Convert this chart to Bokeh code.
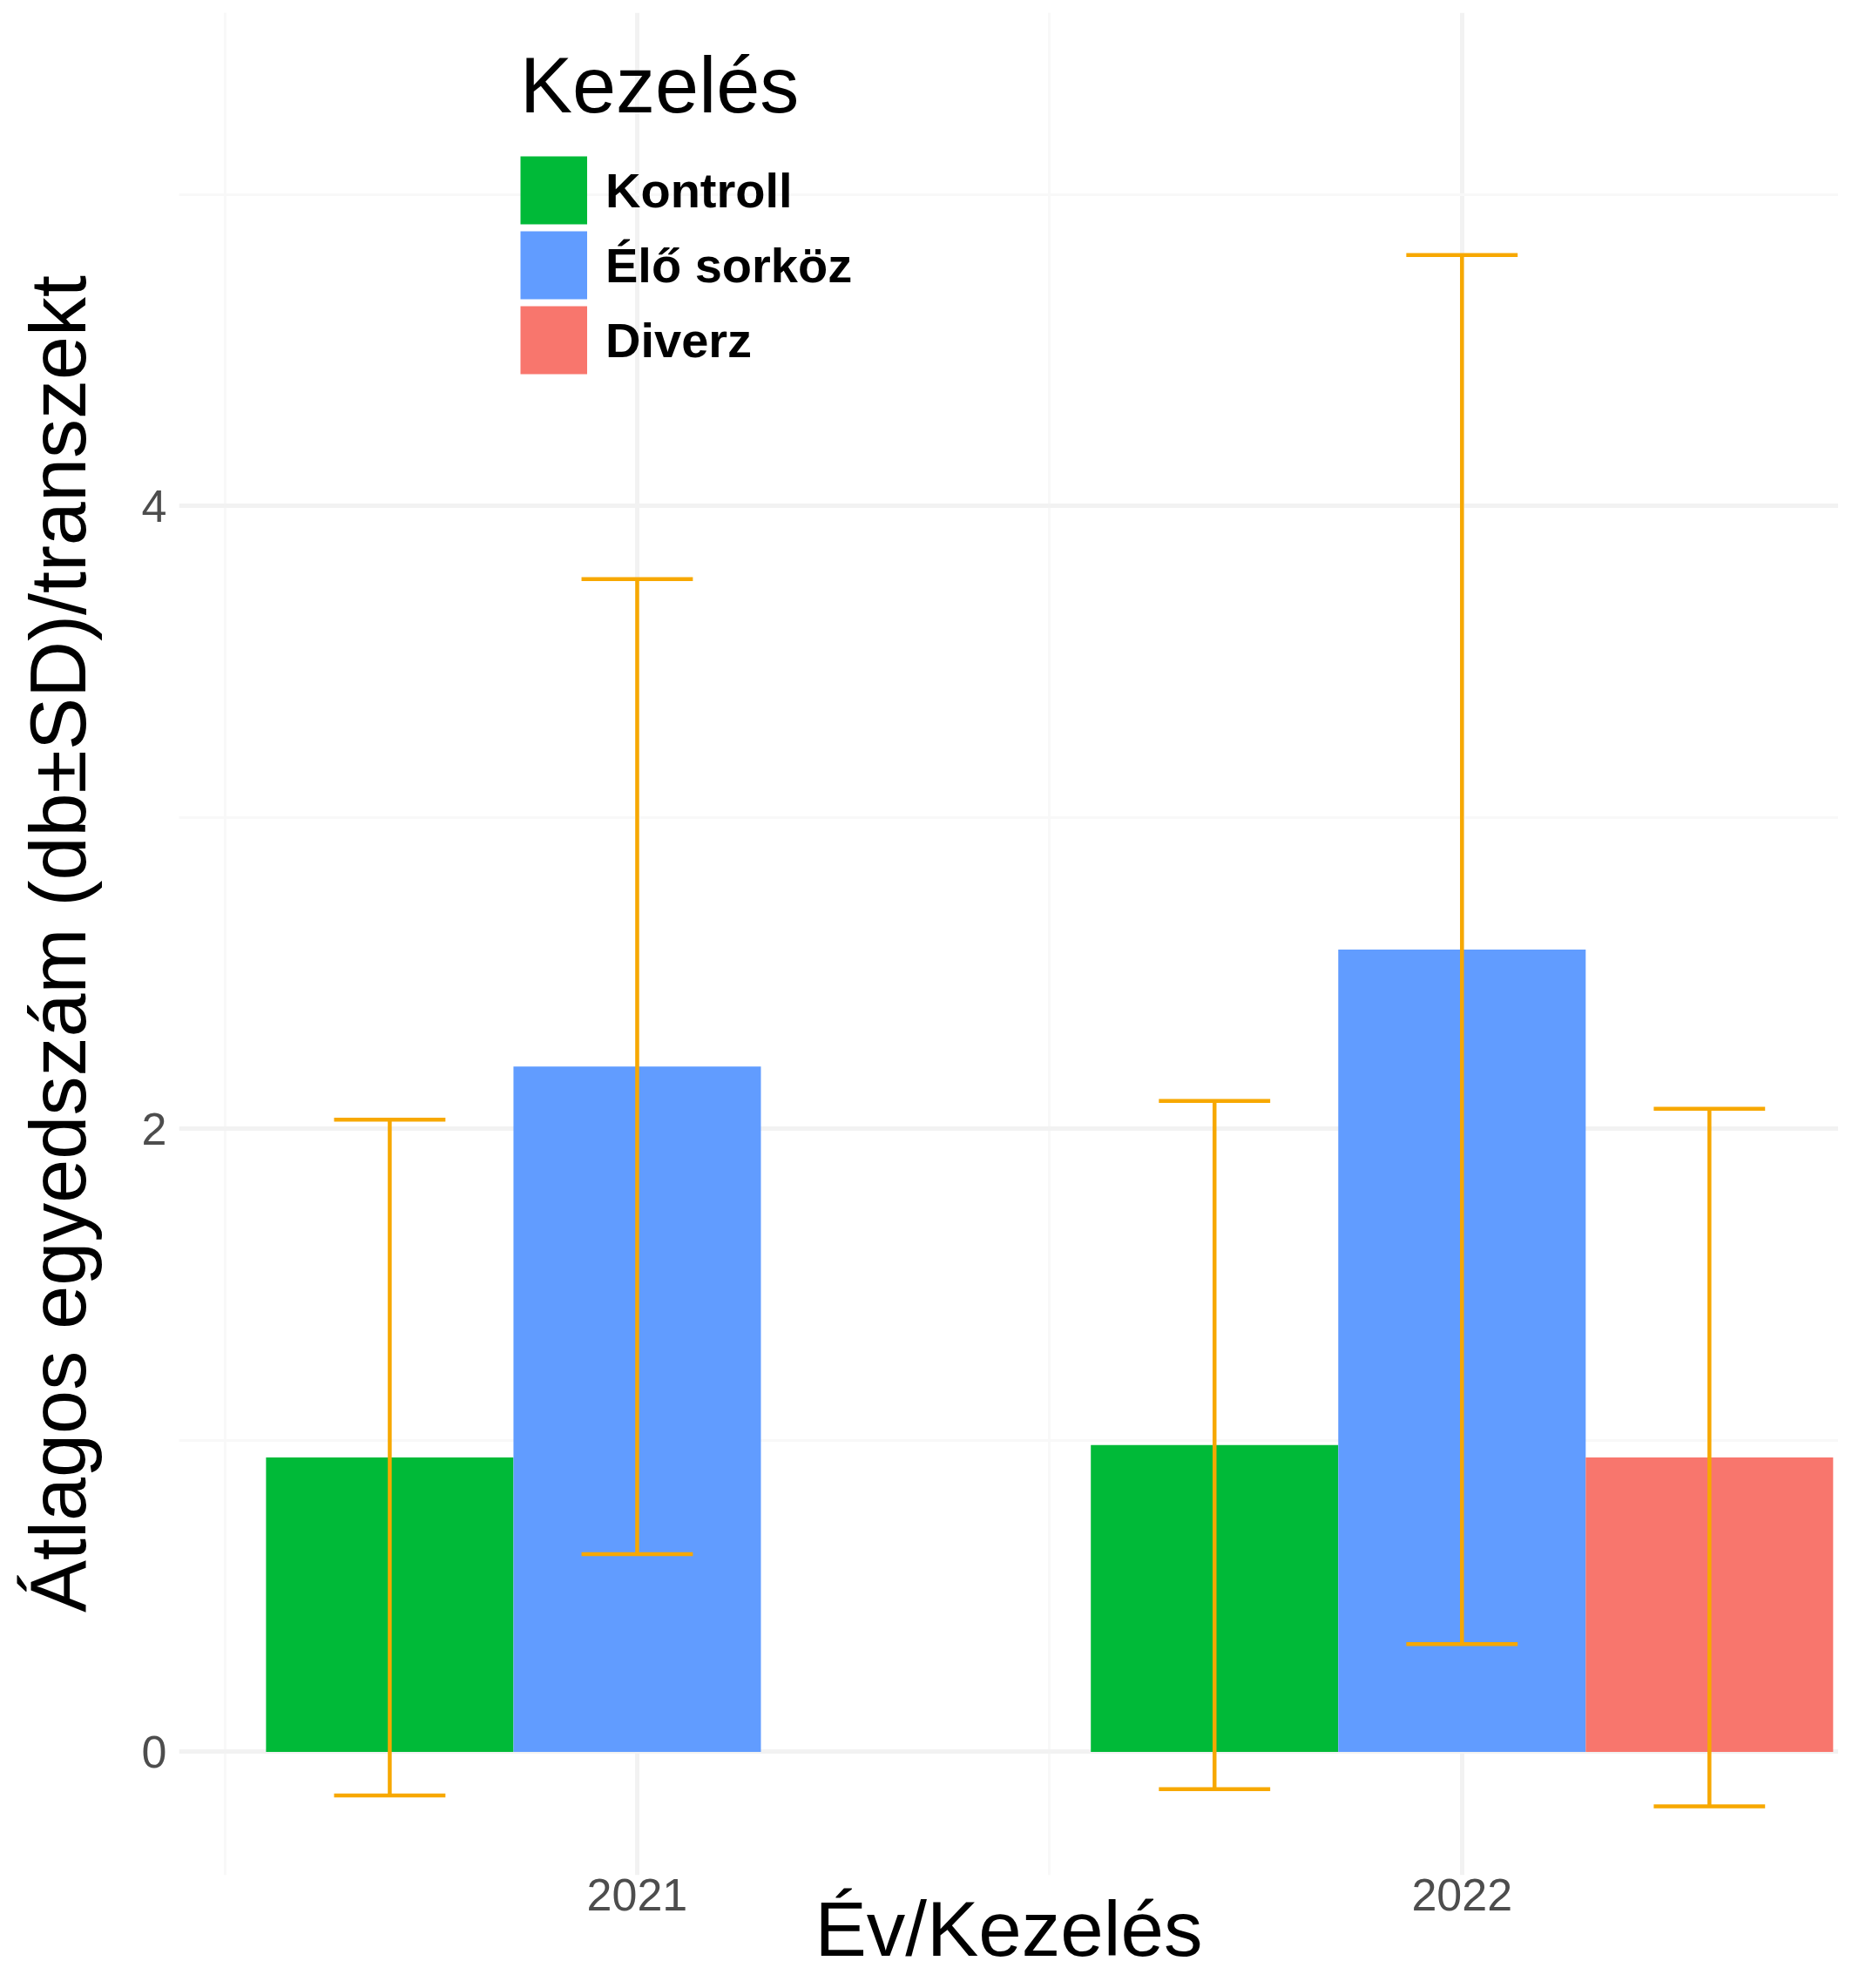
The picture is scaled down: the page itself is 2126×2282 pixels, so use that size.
from bokeh.plotting import figure
from bokeh.models import FixedTicker, Legend, LegendItem, ColumnDataSource, Range1d
from bokeh.embed import file_html
from bokeh.resources import INLINE

# ---- data ----
years = [2021, 2021, 2022, 2022, 2022]
treatments = ["Kontroll", "Élő sorköz", "Kontroll", "Élő sorköz", "Diverz"]
means = [0.945, 2.200, 0.985, 2.576, 0.945]
sds = [1.085, 1.565, 1.105, 2.230, 1.120]

treatment_order = ["Kontroll", "Élő sorköz", "Diverz"]
treatment_colors = ["#00BA38", "#619CFF", "#F8766D"]

x_ticks = [2021, 2022]
x_tick_labels = ["2021", "2022"]
y_ticks = [0, 2, 4]

legend_title = "Kezelés"
x_title = "Év/Kezelés"
y_title = "Átlagos egyedszám (db±SD)/transzekt"

# ---- styling ----
BAR_W = 0.3
CAP_W = 0.135
ERR_COLOR = "#F7A800"
FONT = "Liberation Sans"
NAN = float("nan")

p = figure(width=2110, height=2266, output_backend="svg", toolbar_location=None,
           x_range=Range1d(2020.4445, 2022.4565), y_range=Range1d(-0.396, 5.584),
           min_border_left=205, min_border_right=0, min_border_top=14, min_border_bottom=114)
p.outline_line_color = None
p.background_fill_color = "white"
p.border_fill_color = "white"

renderers = {}
for k, (t, col) in enumerate(zip(treatment_order, treatment_colors)):
    idx = [i for i, tr in enumerate(treatments) if tr == t]
    xs = [years[i] + (k - 1) * BAR_W for i in idx]
    src = ColumnDataSource(dict(x=xs, top=[means[i] for i in idx]))
    p.vbar(x="x", top="top", bottom=0, width=BAR_W, source=src,
           fill_color=col, line_color=None)
    # legend key swatch only (a NaN point draws nothing in the plot area)
    renderers[t] = p.line(x=[NAN], y=[NAN], line_color=col, line_width=78)

# error bars (mean ± SD)
ex, lo, hi = [], [], []
for i in range(len(years)):
    k = treatment_order.index(treatments[i])
    ex.append(years[i] + (k - 1) * BAR_W)
    lo.append(means[i] - sds[i])
    hi.append(means[i] + sds[i])
esrc = ColumnDataSource(dict(x=ex, lo=lo, hi=hi,
                             xl=[v - CAP_W / 2 for v in ex], xr=[v + CAP_W / 2 for v in ex]))
p.segment(x0="x", y0="lo", x1="x", y1="hi", source=esrc, line_color=ERR_COLOR, line_width=4.5)
p.segment(x0="xl", y0="hi", x1="xr", y1="hi", source=esrc, line_color=ERR_COLOR, line_width=4.5)
p.segment(x0="xl", y0="lo", x1="xr", y1="lo", source=esrc, line_color=ERR_COLOR, line_width=4.5)

# axes / ticks
x_minor = [t - 0.5 for t in x_ticks] + [x_ticks[-1] + 0.5]
y_minor = [t + 1 for t in y_ticks]
xt = FixedTicker(ticks=x_ticks, minor_ticks=x_minor)
yt = FixedTicker(ticks=y_ticks, minor_ticks=y_minor)
p.xaxis.ticker = xt
p.yaxis.ticker = yt
p.xgrid.ticker = xt
p.ygrid.ticker = yt
p.xaxis.major_label_overrides = {t: l for t, l in zip(x_ticks, x_tick_labels)}

for ax in (p.xaxis[0], p.yaxis[0]):
    ax.axis_line_color = None
    ax.major_tick_line_color = None
    ax.minor_tick_line_color = None
    ax.major_tick_out = 0
    ax.major_tick_in = 0
    ax.major_label_text_font = FONT
    ax.major_label_text_font_size = "52px"
    ax.major_label_text_color = "#4D4D4D"
    ax.axis_label_text_font = FONT
    ax.axis_label_text_font_style = "normal"
    ax.axis_label_text_color = "black"

p.xaxis.major_label_standoff = 0
p.xaxis.axis_label = x_title
p.xaxis.axis_label_text_font_size = "89px"
p.xaxis.axis_label_standoff = -32

p.yaxis.major_label_standoff = 10
p.yaxis.axis_label = y_title
p.yaxis.axis_label_text_font_size = "90px"
p.yaxis.axis_label_standoff = 43

for g in (p.xgrid[0], p.ygrid[0]):
    g.grid_line_color = "#F2F2F2"
    g.grid_line_width = 5
    g.minor_grid_line_color = "#F8F8F8"
    g.minor_grid_line_width = 3

# legend
items = [LegendItem(label=t, renderers=[renderers[t]]) for t in treatment_order]
legend = Legend(items=items, title=legend_title, location=(392, 1719),
                title_text_font=FONT, title_text_font_size="90px", title_text_font_style="normal",
                title_text_color="black", title_standoff=25,
                label_text_font=FONT, label_text_font_size="56px", label_text_font_style="bold",
                label_text_color="black",
                glyph_width=77, glyph_height=86, spacing=0, label_standoff=21,
                padding=0, margin=0, border_line_color=None, background_fill_alpha=0)
p.add_layout(legend)

open("out.html", "w").write(file_html(p, INLINE))
